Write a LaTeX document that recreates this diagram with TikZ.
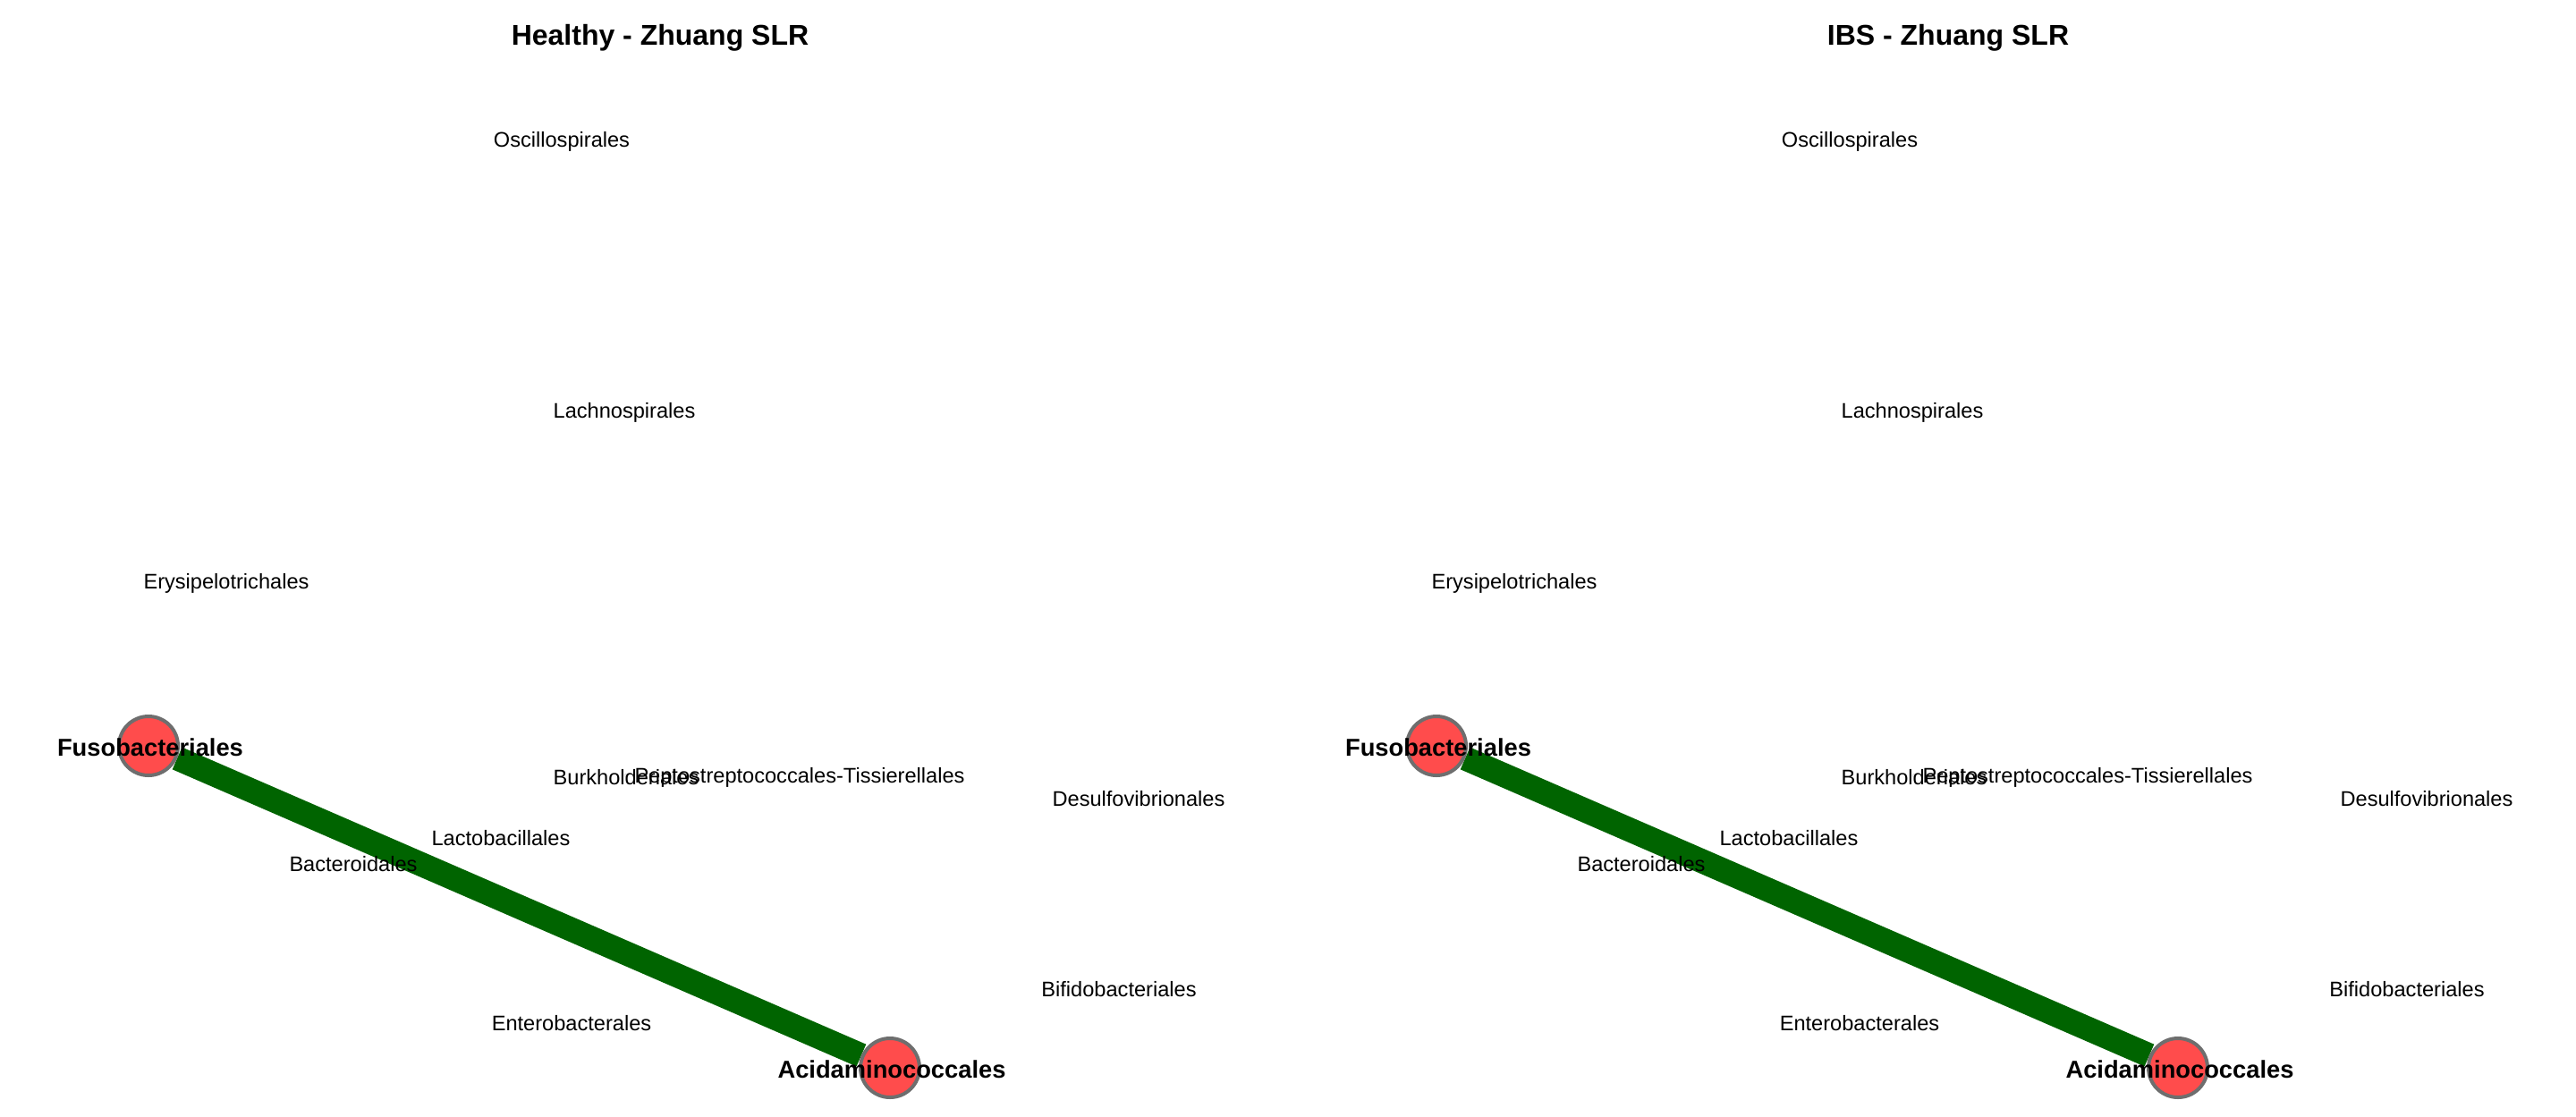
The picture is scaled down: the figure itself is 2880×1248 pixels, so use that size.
\documentclass[tikz,border=0pt]{standalone}
\usepackage{fontspec}
\setmainfont{Liberation Sans}
\usetikzlibrary{backgrounds}
\definecolor{edgegreen}{RGB}{0,100,0}
\tikzset{
  titletext/.style={font=\fontsize{32}{38}\selectfont\bfseries, inner sep=0pt},
  lbl/.style={font=\fontsize{23.6}{28}\selectfont, inner sep=0pt, yshift=-2pt},
  boldlbl/.style={font=\fontsize{27.3}{32}\selectfont\bfseries, inner sep=0pt, yshift=-2pt, xshift=2pt},
  dot/.style={circle, fill=gray!22, inner sep=0pt, minimum size=5pt},
  vert/.style={circle, fill=red, fill opacity=0.7, draw=black!57, line width=4pt, inner sep=0pt, minimum size=66pt},
  link/.style={draw=edgegreen, line width=27pt}
}
\newcommand\netpanel[1]{%
  \node[titletext] (title) at (738,42) {#1};
  \node[dot] (osc) at (628,156) {};
  \node[dot] (lach) at (698,459) {};
  \node[dot] (ery) at (253,650) {};
  \node[dot] (burk) at (700,867) {};
  \node[dot] (pept) at (894,867) {};
  \node[dot] (desu) at (1273,891) {};
  \node[dot] (lact) at (560,935) {};
  \node[dot] (bact) at (395,964) {};
  \node[dot] (bifi) at (1251,1104) {};
  \node[dot] (ente) at (639,1142) {};
  \node[vert] (fuso) at (166,834) {};
  \node[vert] (acid) at (995,1194) {};
  \begin{pgfonlayer}{background}
    \draw[link] (fuso) -- (acid);
  \end{pgfonlayer}
  \node[lbl] (oscT) at (osc) {Oscillospirales};
  \node[lbl] (lachT) at (lach) {Lachnospirales};
  \node[lbl] (eryT) at (ery) {Erysipelotrichales};
  \node[lbl] (burkT) at (burk) {Burkholderiales};
  \node[lbl] (peptT) at (pept) {Peptostreptococcales-Tissierellales};
  \node[lbl] (desuT) at (desu) {Desulfovibrionales};
  \node[lbl] (lactT) at (lact) {Lactobacillales};
  \node[lbl] (bactT) at (bact) {Bacteroidales};
  \node[lbl] (bifiT) at (bifi) {Bifidobacteriales};
  \node[lbl] (enteT) at (ente) {Enterobacterales};
  \node[boldlbl] (fusoT) at (fuso) {Fusobacteriales};
  \node[boldlbl] (acidT) at (acid) {Acidaminococcales};
}
\begin{document}
\begin{tikzpicture}[x=1pt,y=-1pt]
  \useasboundingbox (0,0) rectangle (2880,1248);
  \begin{scope}[name prefix=L-]
    \netpanel{Healthy - Zhuang SLR}
  \end{scope}
  \begin{scope}[xshift=1440pt, name prefix=R-]
    \netpanel{IBS - Zhuang SLR}
  \end{scope}
\end{tikzpicture}
\end{document}
